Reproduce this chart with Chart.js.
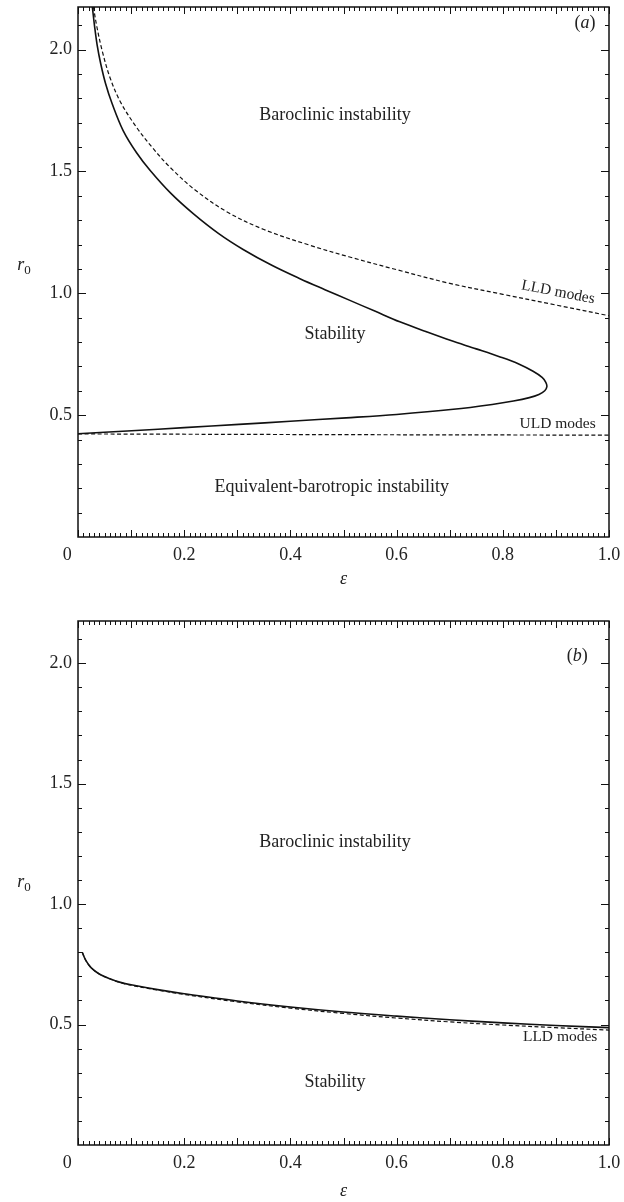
<!DOCTYPE html>
<html>
<head>
<meta charset="utf-8">
<script src="https://cdn.jsdelivr.net/npm/chart.js@4.4.0/dist/chart.umd.min.js"></script>
<style>
body{margin:0;background:#fff;}
canvas{display:block;}
</style>
</head>
<body>
<canvas id="chartA" width="624" height="601"></canvas>
<canvas id="chartB" width="624" height="601"></canvas>
<script>
// panel (a) : marginal stability curve + LLD / ULD mode curves
var aNeutralEps = [0.027, 0.031, 0.036, 0.043, 0.052, 0.064, 0.085, 0.110, 0.136, 0.175, 0.217, 0.265, 0.311, 0.365, 0.418, 0.465, 0.512,
  0.560, 0.606, 0.655, 0.701, 0.750, 0.795, 0.830, 0.857, 0.874, 0.881, 0.883, 0.879, 0.868, 0.850, 0.820, 0.780, 0.707,
  0.600, 0.505, 0.400, 0.303, 0.200, 0.101, 0.050, 0.0];
var aNeutralR0 = [2.175, 2.10, 2.02, 1.94, 1.86, 1.78, 1.668, 1.578, 1.504, 1.410, 1.327, 1.245, 1.180, 1.115, 1.060, 1.015, 0.971,
  0.926, 0.883, 0.843, 0.807, 0.772, 0.739, 0.710, 0.680, 0.655, 0.635, 0.617, 0.600, 0.585, 0.572, 0.558, 0.544, 0.524,
  0.503, 0.489, 0.475, 0.462, 0.449, 0.436, 0.430, 0.424];

var aLldEps = [0.029, 0.035, 0.045, 0.060, 0.080, 0.110, 0.140, 0.173, 0.220, 0.280, 0.350, 0.437, 0.510, 0.600,
  0.698, 0.800, 0.900, 1.0];
var aLldR0 = [2.175, 2.10, 2.00, 1.887, 1.785, 1.682, 1.598, 1.518, 1.425, 1.335, 1.262, 1.197, 1.150, 1.097,
  1.042, 0.996, 0.952, 0.908];

var aUldEps = [0.0, 0.5, 1.0];
var aUldR0 = [0.423, 0.420, 0.418];

// panel (b)
var bNeutralEps = [0.008, 0.015, 0.025, 0.040, 0.060, 0.080, 0.100, 0.150, 0.200, 0.300, 0.400, 0.500, 0.600, 0.700, 0.800, 0.900, 1.0];
var bNeutralR0 = [0.800, 0.765, 0.735, 0.710, 0.690, 0.675, 0.665, 0.645, 0.628, 0.598, 0.573, 0.552, 0.535, 0.520, 0.507, 0.496, 0.487];
var bLldEps = [0.008, 0.015, 0.025, 0.040, 0.060, 0.080, 0.100, 0.150, 0.200, 0.300, 0.400, 0.500, 0.600, 0.700, 0.800, 0.900, 1.0];
var bLldR0 = [0.800, 0.765, 0.735, 0.710, 0.690, 0.674, 0.663, 0.643, 0.625, 0.594, 0.568, 0.546, 0.527, 0.511, 0.498, 0.487, 0.477];

var xTickLabels = ['0', '0.2', '0.4', '0.6', '0.8', '1.0'];
var yTickLabels = ['0.5', '1.0', '1.5', '2.0'];
var rMax = 2.175;

var serif = "'Liberation Serif', 'DejaVu Serif', serif";
var inkColor = '#222';

function pts(xs, ys){
  var out = [];
  for (var i = 0; i < xs.length; i++) out.push({x: xs[i], y: ys[i]});
  return out;
}

function solid(xs, ys){
  return {data: pts(xs, ys), showLine: true, borderColor: '#111', borderWidth: 1.6,
    pointRadius: 0, tension: 0.35, fill: false};
}
function dashed(xs, ys){
  return {data: pts(xs, ys), showLine: true, borderColor: '#111', borderWidth: 1.2,
    borderDash: [4, 2.5], pointRadius: 0, tension: 0.35, fill: false};
}

// pieces of text, some italic, drawn side by side and centred on (cx, cy)
function drawParts(ctx, parts, cx, cy, angle){
  var total = 0;
  parts.forEach(function(p){
    ctx.font = (p.italic ? 'italic ' : '') + p.size + 'px ' + serif;
    p.w = ctx.measureText(p.t).width;
    total += p.w;
  });
  ctx.save();
  ctx.translate(cx, cy);
  if (angle) ctx.rotate(angle * Math.PI / 180);
  ctx.fillStyle = inkColor;
  ctx.textBaseline = 'middle';
  ctx.textAlign = 'left';
  var x0 = -total / 2;
  parts.forEach(function(p){
    ctx.font = (p.italic ? 'italic ' : '') + p.size + 'px ' + serif;
    ctx.fillText(p.t, x0, p.dy || 0);
    x0 += p.w;
  });
  ctx.restore();
}

function notesPlugin(notes){
  return {
    id: 'notes',
    afterDatasetsDraw: function(chart){
      var ctx = chart.ctx, sx = chart.scales.x, sy = chart.scales.y;
      notes.forEach(function(n){
        var cx = n.px !== undefined ? n.px : sx.getPixelForValue(n.x);
        var cy = sy.getPixelForValue(n.y);
        if (n.right) {
          ctx.font = n.parts[0].size + 'px ' + serif;
          cx = cx - ctx.measureText(n.parts[0].t).width / 2;
        }
        drawParts(ctx, n.parts, cx, cy, n.angle);
      });
    }
  };
}

var frameTicks = {
  id: 'frameTicks',
  afterDatasetsDraw: function(chart){
    var ctx = chart.ctx, a = chart.chartArea, x = chart.scales.x, y = chart.scales.y;
    ctx.save();
    ctx.strokeStyle = '#111';
    ctx.lineWidth = 1;
    ctx.beginPath();
    for (var i = 0; i <= 100; i++) {
      var px = Math.round(x.getPixelForValue(i / 100)) + 0.5;
      var len = i % 10 === 0 ? 7 : 4;
      ctx.moveTo(px, a.bottom); ctx.lineTo(px, a.bottom - len);
      ctx.moveTo(px, a.top); ctx.lineTo(px, a.top + len);
    }
    for (var j = 1; j <= 21; j++) {
      var py = Math.round(y.getPixelForValue(j / 10)) + 0.5;
      var l2 = j % 5 === 0 ? 8 : 4;
      ctx.moveTo(a.left, py); ctx.lineTo(a.left + l2, py);
      ctx.moveTo(a.right, py); ctx.lineTo(a.right - l2, py);
    }
    ctx.stroke();
    ctx.lineWidth = 1.5;
    ctx.strokeRect(a.left, a.top, a.right - a.left, a.bottom - a.top);
    ctx.restore();
  }
};

function makeChart(id, datasets, notes, padTop, xHeight, titlePad){
  var ctx = document.getElementById(id).getContext('2d');
  return new Chart(ctx, {
    type: 'scatter',
    data: {datasets: datasets},
    options: {
      responsive: false,
      animation: false,
      devicePixelRatio: 1,
      layout: {padding: {top: padTop, right: 15, left: 0, bottom: 0}},
      plugins: {legend: {display: false}, tooltip: {enabled: false}},
      scales: {
        x: {
          type: 'linear', min: 0, max: 1,
          grid: {display: false, drawTicks: false},
          border: {display: false},
          ticks: {
            stepSize: 0.2, padding: 7, color: inkColor, maxRotation: 0, autoSkip: false,
            font: {family: serif, size: 18},
            callback: function(v){
              var i = Math.round(v / 0.2);
              if (Math.abs(v - i * 0.2) > 1e-6) return '';
              return i === 0 ? xTickLabels[0] + '\u2003\u2009' : xTickLabels[i];
            }
          },
          title: {display: true, text: '\u03b5', color: inkColor,
            font: {family: serif, size: 18, style: 'italic'}, padding: {top: 0, bottom: titlePad}},
          afterFit: function(s){
            s.height = xHeight;
            s.paddingLeft = 0; s.paddingRight = 0;
          }
        },
        y: {
          type: 'linear', min: 0, max: rMax,
          grid: {display: false, drawTicks: false},
          border: {display: false},
          ticks: {
            stepSize: 0.5, padding: 6, color: inkColor, autoSkip: false,
            font: {family: serif, size: 18},
            callback: function(v){
              var i = Math.round(v / 0.5);
              if (i < 1 || Math.abs(v - i * 0.5) > 1e-6) return '';
              return yTickLabels[i - 1];
            }
          },
          afterFit: function(s){
            s.width = 78;
            s.paddingTop = 0; s.paddingBottom = 0;
          }
        }
      }
    },
    plugins: [frameTicks, notesPlugin(notes)]
  });
}

makeChart('chartA', [
  solid(aNeutralEps, aNeutralR0),
  dashed(aLldEps, aLldR0),
  dashed(aUldEps, aUldR0)
], [
  {x: 0.484, y: 1.73, parts: [{t: 'Baroclinic instability', size: 18}]},
  {x: 0.484, y: 0.83, parts: [{t: 'Stability', size: 18}]},
  {x: 0.478, y: 0.205, parts: [{t: 'Equivalent-barotropic instability', size: 18}]},
  {x: 0.975, y: 0.463, right: true, parts: [{t: 'ULD modes', size: 15.5}]},
  {x: 0.904, y: 1.004, angle: 11, parts: [{t: 'LLD modes', size: 15.5}]},
  {x: 0.955, y: 2.11, parts: [{t: '(', size: 18}, {t: 'a', size: 18, italic: true}, {t: ')', size: 18}]},
  {px: 24, y: 1.115, parts: [{t: 'r', size: 18, italic: true}, {t: '0', size: 13, dy: 5}]}
], 7, 64, 11);

makeChart('chartB', [
  solid(bNeutralEps, bNeutralR0),
  dashed(bLldEps, bLldR0)
], [
  {x: 0.484, y: 1.257, parts: [{t: 'Baroclinic instability', size: 18}]},
  {x: 0.484, y: 0.26, parts: [{t: 'Stability', size: 18}]},
  {x: 0.908, y: 0.448, parts: [{t: 'LLD modes', size: 15.5}]},
  {x: 0.94, y: 2.03, parts: [{t: '(', size: 18}, {t: 'b', size: 18, italic: true}, {t: ')', size: 18}]},
  {px: 24, y: 1.09, parts: [{t: 'r', size: 18, italic: true}, {t: '0', size: 13, dy: 5}]}
], 20, 57, 0);
</script>
</body>
</html>
